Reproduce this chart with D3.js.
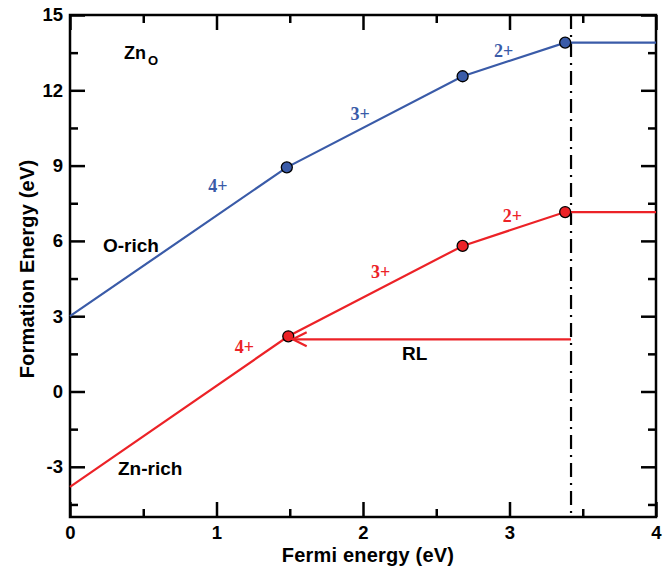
<!DOCTYPE html>
<html>
<head>
<meta charset="utf-8">
<script src="https://cdn.jsdelivr.net/npm/d3@7"></script>
<style>
  html, body { margin: 0; padding: 0; background: #fff; }
  svg { display: block; }
  .sans { font-family: "Liberation Sans", Arial, Helvetica, sans-serif; font-weight: bold; }
  .serif { font-family: "Liberation Serif", "Times New Roman", serif; font-weight: bold; }
</style>
</head>
<body>
<svg id="chart" width="671" height="569"></svg>
<script>
// Formation energy of the Zn_O antisite vs. Fermi level (charge states 4+, 3+, 2+, 0)
const oRichPoints = [
  { ef: 0.00, e: 3.00 },
  { ef: 1.48, e: 8.93 },
  { ef: 2.68, e: 12.56 },
  { ef: 3.38, e: 13.90 },
  { ef: 4.00, e: 13.90 }
];
const znRichPoints = [
  { ef: 0.00, e: -3.80 },
  { ef: 1.49, e: 2.20 },
  { ef: 2.68, e: 5.80 },
  { ef: 3.38, e: 7.15 },
  { ef: 4.00, e: 7.15 }
];
// transition levels marked with dots (indices into the arrays above)
const transitionIdx = [1, 2, 3];
const chargeLabels = ["4+", "3+", "2+"];
// where each charge label sits, in data units (Fermi energy, formation energy at baseline)
const oRichLabelPos = [{ ef: 1.01, e: 7.95 }, { ef: 1.98, e: 10.82 }, { ef: 2.96, e: 13.33 }];
const znRichLabelPos = [{ ef: 1.19, e: 1.53 }, { ef: 2.12, e: 4.52 }, { ef: 3.02, e: 6.75 }];
const bandGap = 3.42;
const rlLevel = { from: 3.42, to: 1.52, e: 2.08 };

const xMajorTicks = [0, 1, 2, 3, 4];
const xMinorTicks = [0.5, 1.5, 2.5, 3.5];
const yMajorTicks = [-3, 0, 3, 6, 9, 12, 15];
const yMinorTicks = [-4.5, -1.5, 1.5, 4.5, 7.5, 10.5, 13.5];

const blue = "#3a5ba8";
const red = "#ec2227";

const svg = d3.select("#chart");
const L = 70, R = 656, T = 15, B = 517;

const x = d3.scaleLinear().domain([0, 4]).range([L, R]);
const y = d3.scaleLinear().domain([-5, 15]).range([B, T]);

// ---- axes (ticks point inward on all four sides) ----
function styleAxis(g) {
  g.select(".domain").remove();
  g.selectAll(".tick line").attr("stroke", "#000").attr("stroke-width", 2.5);
  g.selectAll(".tick text").attr("class", "sans").attr("fill", "#000").attr("font-size", 18.5);
}
const plain = d => String(d);

svg.append("g").attr("transform", `translate(0,${B})`)
  .call(d3.axisBottom(x).tickValues(xMajorTicks).tickSize(-15).tickPadding(9).tickFormat(plain))
  .call(styleAxis);
svg.append("g").attr("transform", `translate(0,${B})`)
  .call(d3.axisBottom(x).tickValues(xMinorTicks).tickSize(-8).tickFormat(""))
  .call(styleAxis);
svg.append("g").attr("transform", `translate(0,${T})`)
  .call(d3.axisTop(x).tickValues(xMajorTicks).tickSize(-15).tickFormat(""))
  .call(styleAxis);
svg.append("g").attr("transform", `translate(0,${T})`)
  .call(d3.axisTop(x).tickValues(xMinorTicks).tickSize(-8).tickFormat(""))
  .call(styleAxis);

svg.append("g").attr("transform", `translate(${L},0)`)
  .call(d3.axisLeft(y).tickValues(yMajorTicks).tickSize(-15).tickPadding(7).tickFormat(plain))
  .call(styleAxis);
svg.append("g").attr("transform", `translate(${L},0)`)
  .call(d3.axisLeft(y).tickValues(yMinorTicks).tickSize(-8).tickFormat(""))
  .call(styleAxis);
svg.append("g").attr("transform", `translate(${R},0)`)
  .call(d3.axisRight(y).tickValues(yMajorTicks).tickSize(-15).tickFormat(""))
  .call(styleAxis);
svg.append("g").attr("transform", `translate(${R},0)`)
  .call(d3.axisRight(y).tickValues(yMinorTicks).tickSize(-8).tickFormat(""))
  .call(styleAxis);

// frame
svg.append("rect")
  .attr("x", L).attr("y", T).attr("width", R - L).attr("height", B - T)
  .attr("fill", "none").attr("stroke", "#000").attr("stroke-width", 2.5);

// axis titles
svg.append("text").attr("class", "sans")
  .attr("x", (L + R) / 2 + 5).attr("y", 562)
  .attr("text-anchor", "middle").attr("font-size", 20).attr("letter-spacing", 0.2)
  .text("Fermi energy (eV)");
svg.append("text").attr("class", "sans")
  .attr("transform", `translate(34,${(T + B) / 2 + 3}) rotate(-90)`)
  .attr("text-anchor", "middle").attr("font-size", 20).attr("letter-spacing", 0.2)
  .text("Formation Energy (eV)");

// ---- band-gap edge (dash-dot) ----
svg.append("line")
  .attr("x1", x(bandGap)).attr("x2", x(bandGap))
  .attr("y1", y(15)).attr("y2", y(-5))
  .attr("stroke", "#000").attr("stroke-width", 2.2)
  .attr("stroke-dasharray", "14,6,2,6");

// ---- formation energy curves ----
const line = d3.line().x(d => x(d.ef)).y(d => y(d.e));

function drawCurve(points, color, labelPos) {
  svg.append("path").datum(points)
    .attr("d", line).attr("fill", "none")
    .attr("stroke", color).attr("stroke-width", 2.2);
  svg.selectAll(null).data(transitionIdx.map(i => points[i])).enter()
    .append("circle")
    .attr("cx", d => x(d.ef)).attr("cy", d => y(d.e)).attr("r", 5.5)
    .attr("fill", color).attr("stroke", "#000").attr("stroke-width", 1.3);
  svg.selectAll(null).data(labelPos).enter()
    .append("text").attr("class", "serif")
    .attr("x", d => x(d.ef)).attr("y", d => y(d.e))
    .attr("text-anchor", "middle").attr("font-size", 18)
    .attr("fill", color).text((d, i) => chargeLabels[i]);
}

drawCurve(oRichPoints, blue, oRichLabelPos);
drawCurve(znRichPoints, red, znRichLabelPos);

// ---- RL arrow ----
const arrowY = y(rlLevel.e);
const tipX = x(rlLevel.to);
svg.append("line")
  .attr("x1", x(rlLevel.from)).attr("x2", tipX)
  .attr("y1", arrowY).attr("y2", arrowY)
  .attr("stroke", red).attr("stroke-width", 2.2);
svg.append("path")
  .attr("d", `M${tipX + 14},${arrowY - 7} L${tipX},${arrowY} L${tipX + 14},${arrowY + 7}`)
  .attr("fill", "none").attr("stroke", red).attr("stroke-width", 2.2);

// ---- annotations ----
svg.append("text").attr("class", "sans").attr("font-size", 19)
  .attr("x", 402).attr("y", 360).text("RL");
svg.append("text").attr("class", "sans").attr("font-size", 19)
  .attr("x", 103).attr("y", 252).text("O-rich");
svg.append("text").attr("class", "sans").attr("font-size", 19)
  .attr("x", 118).attr("y", 475).text("Zn-rich");
const zn = svg.append("text").attr("class", "sans").attr("font-size", 18)
  .attr("x", 124).attr("y", 59);
zn.append("tspan").text("Zn");
zn.append("tspan").attr("font-size", 13).attr("dy", 6).attr("dx", 2).text("O");
</script>
</body>
</html>
